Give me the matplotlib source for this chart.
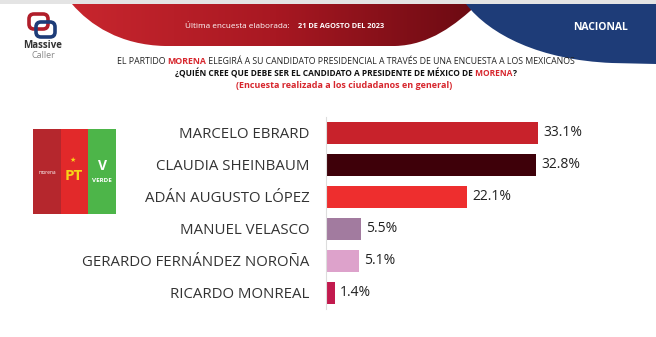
import numpy as np
import matplotlib.pyplot as plt
from matplotlib.path import Path
from matplotlib.patches import PathPatch, Rectangle, FancyBboxPatch
from matplotlib.colors import LinearSegmentedColormap

candidatos = ["MARCELO EBRARD", "CLAUDIA SHEINBAUM", "ADÁN AUGUSTO LÓPEZ",
              "MANUEL VELASCO", "GERARDO FERNÁNDEZ NOROÑA", "RICARDO MONREAL"]
porcentajes = [33.1, 32.8, 22.1, 5.5, 5.1, 1.4]
colores = ["#C8222B", "#3E0009", "#EE2E2E", "#A27B9F", "#DDA2CB", "#C21A4E"]

W, H = 656, 337
dpi = 100
fig = plt.figure(figsize=(W / dpi, H / dpi), dpi=dpi)
plt.rcParams['font.family'] = ['Open Sans', 'DejaVu Sans']

# background / decoration layer in pixel coords
bg = fig.add_axes([0, 0, 1, 1])
bg.set_xlim(0, W)
bg.set_ylim(H, 0)
bg.axis('off')

bg.add_patch(Rectangle((0, 0), W, 4, color="#E4E4E4", lw=0))

# red swoosh with gradient
red_path = Path(
    [(72, 4), (478, 4), (455, 25), (430, 45), (395, 46), (165, 46),
     (120, 45), (90, 25), (72, 4), (72, 4)],
    [Path.MOVETO, Path.LINETO, Path.CURVE4, Path.CURVE4, Path.CURVE4,
     Path.LINETO, Path.CURVE4, Path.CURVE4, Path.CURVE4, Path.CLOSEPOLY])
red_patch = PathPatch(red_path, facecolor='none', lw=0)
bg.add_patch(red_patch)
grad = np.linspace(0, 1, 256).reshape(1, -1)
cmap = LinearSegmentedColormap.from_list("r", ["#C8262E", "#A81822", "#6A0A12"])
im = bg.imshow(grad, cmap=cmap, extent=(72, 480, 46, 4), aspect='auto', zorder=1)
im.set_clip_path(red_patch)

# blue shape
blue_path = Path(
    [(466, 4), (656, 4), (656, 64), (612, 63), (540, 60), (490, 35), (466, 4), (466, 4)],
    [Path.MOVETO, Path.LINETO, Path.LINETO, Path.LINETO,
     Path.CURVE4, Path.CURVE4, Path.CURVE4, Path.CLOSEPOLY])
bg.add_patch(PathPatch(blue_path, facecolor="#1E3C78", lw=0, zorder=2))

# header texts
bg.text(185, 26, "Última encuesta elaborada:", color="white", fontsize=5.9,
        ha='left', va='center', zorder=3)
bg.text(298, 26, "21 DE AGOSTO DEL 2023", color="white", fontsize=5.35,
        fontweight='bold', ha='left', va='center', zorder=3)
bg.text(601, 28, "NACIONAL", color="white", fontsize=7.5, fontweight='bold',
        ha='center', va='center', zorder=3)

# Massive Caller logo
bg.add_patch(FancyBboxPatch((29, 14), 19, 15, boxstyle="round,pad=0,rounding_size=5",
                            fc='none', ec="#B01E2A", lw=2.6))
bg.add_patch(FancyBboxPatch((36, 22), 19, 15, boxstyle="round,pad=0,rounding_size=5",
                            fc='none', ec="#1E3C78", lw=2.6))
bg.text(43, 46, "Massive", color="#333333", fontsize=7, fontweight='bold',
        ha='center', va='center')
bg.text(43, 55, "Caller", color="#888888", fontsize=6.5, ha='center', va='center')


def linea(y, partes, size, xc):
    txts = []
    for s, c, w in partes:
        txts.append(bg.text(0, y, s, color=c, fontsize=size, fontweight=w,
                            ha='left', va='center'))
    fig.canvas.draw()
    r = fig.canvas.get_renderer()
    inv = bg.transData.inverted()
    widths = []
    for t in txts:
        bb = t.get_window_extent(r)
        x0 = inv.transform((bb.x0, bb.y0))[0]
        x1 = inv.transform((bb.x1, bb.y0))[0]
        widths.append(x1 - x0)
    x = xc - sum(widths) / 2
    for t, w in zip(txts, widths):
        t.set_x(x)
        x += w


linea(62, [("EL PARTIDO ", "#222222", 'normal'), ("MORENA", "#D7262D", 'bold'),
           (" ELEGIRÁ A SU CANDIDATO PRESIDENCIAL A TRAVÉS DE UNA ENCUESTA A LOS MEXICANOS",
            "#222222", 'normal')], 6.3, 346)
linea(73.5, [("¿QUIÉN CREE QUE DEBE SER EL CANDIDATO A PRESIDENTE DE MÉXICO DE", "#111111", 'bold'),
             (" MORENA", "#D7262D", 'bold'), ("?", "#111111", 'bold')], 6.0, 346)
linea(85, [("(Encuesta realizada a los ciudadanos en general)", "#D7262D", 'bold')], 6.5, 344)

# party logo
stripes = ["#B5272D", "#E2292A", "#4DB549"]
for i, c in enumerate(stripes):
    bg.add_patch(Rectangle((33 + i * 27.5, 129), 27.5, 85, color=c, lw=0))
bg.text(47, 172, "morena", color="white", fontsize=3.5, ha='center', va='center')
bg.text(74, 176, "PT", color="#F7D417", fontsize=11, fontweight='bold',
        ha='center', va='center')
bg.text(73, 160, "★", color="#F7D417", fontsize=5, ha='center', va='center')
bg.text(102, 181, "VERDE", color="white", fontsize=4.5, fontweight='bold',
        ha='center', va='center')
bg.text(102, 166, "V", color="white", fontsize=10, fontweight='bold',
        ha='center', va='center')

# bar chart
ax = fig.add_axes([326 / W, (H - 309) / H, 256 / W, 192 / H])
y = np.arange(len(candidatos))
ax.barh(y, porcentajes, height=0.66, color=colores)
ax.set_xlim(0, 40)
ax.set_ylim(len(candidatos) - 0.5, -0.5)
ax.set_yticks(y)
ax.set_yticklabels(candidatos, fontsize=10.8, color="#333333")
ax.tick_params(axis='y', length=0, pad=12)
ax.set_xticks([])
for s in ['top', 'right', 'bottom']:
    ax.spines[s].set_visible(False)
ax.spines['left'].set_color("#DDDDDD")
ax.spines['left'].set_linewidth(0.8)
ax.patch.set_alpha(0)
for yi, v in zip(y, porcentajes):
    ax.text(v + 0.8, yi, f"{v}%", va='center', ha='left', fontsize=10, color="#222222")

fig.savefig("out.png", dpi=dpi)
